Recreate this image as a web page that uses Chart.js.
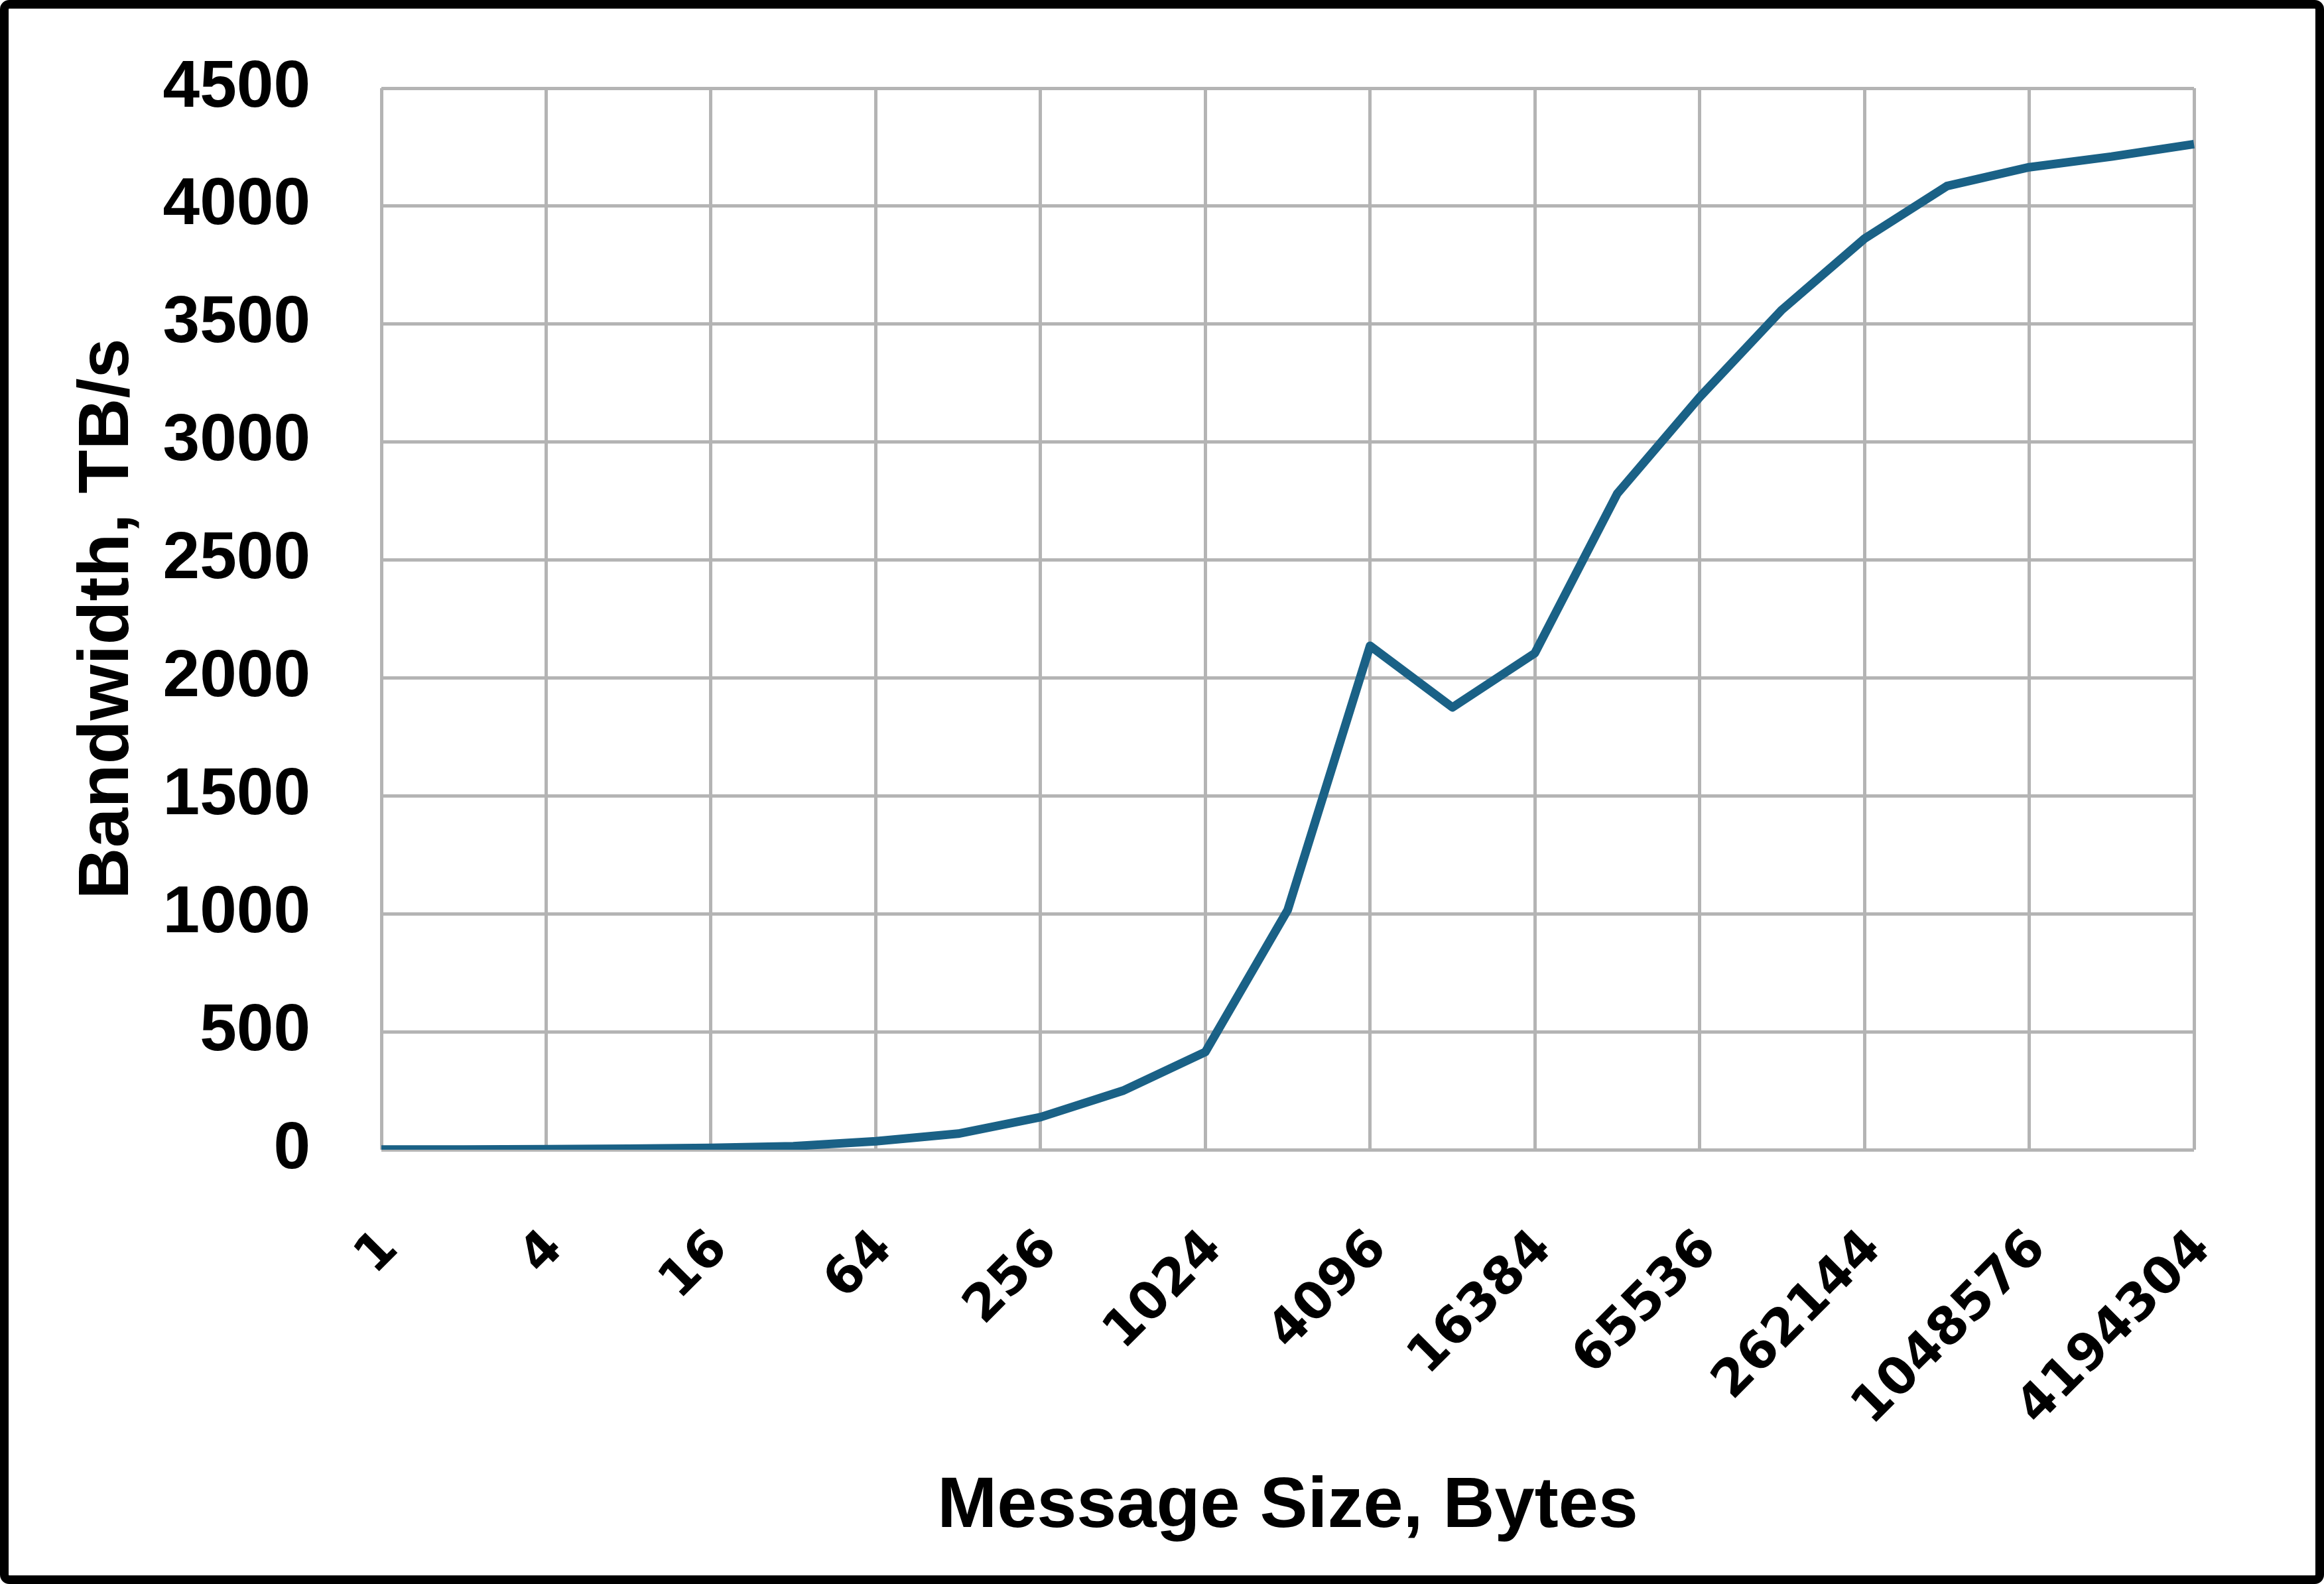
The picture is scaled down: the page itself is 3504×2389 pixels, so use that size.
<!DOCTYPE html>
<html lang="en">
<head>
    <meta charset="UTF-8">
    <title>Bandwidth vs Message Size</title>
    <script src="https://cdn.jsdelivr.net/npm/chart.js"></script>
    <style>
        html, body {
            margin: 0;
            padding: 0;
            background: #ffffff;
        }

        .frame {
            width: 3504px;
            height: 2389px;
            box-sizing: border-box;
            border: 13px solid #000000;
            border-radius: 14px;
            background: #ffffff;
        }

        .chart-box {
            position: relative;
            width: 3478px;
            height: 2363px;
        }
    </style>
</head>
<body>
    <div class="frame">
        <div class="chart-box">
            <canvas id="bwChart"></canvas>
        </div>
    </div>

    <script>
        // Message sizes in bytes (2^0 .. 2^22)
        const messageSizes = [
            '1', '2', '4', '8', '16', '32', '64', '128', '256', '512', '1024', '2048',
            '4096', '8192', '16384', '32768', '65536', '131072', '262144', '524288',
            '1048576', '2097152', '4194304'
        ];

        // Bandwidth, TB/s
        const bandwidth = [
            0.5, 1, 2, 4, 8, 15, 36, 68, 138, 250, 414, 1016,
            2136, 1875, 2105, 2781, 3190, 3561, 3862, 4085,
            4165, 4210, 4263
        ];

        // Only every other size gets a label and a vertical grid line
        const labelEvery = 2;

        const yMin = 0;
        const yMax = 4500;
        const yStep = 500;

        const gridColor = '#b4b4b4';
        const lineColor = '#1a6186';

        const ctx = document.getElementById('bwChart').getContext('2d');
        new Chart(ctx, {
            type: 'line',
            data: {
                labels: messageSizes,
                datasets: [{
                    label: 'Bandwidth',
                    data: bandwidth,
                    borderColor: lineColor,
                    backgroundColor: lineColor,
                    borderWidth: 13,
                    borderJoinStyle: 'round',
                    borderCapStyle: 'butt',
                    pointRadius: 0,
                    pointHoverRadius: 0,
                    tension: 0,
                    fill: false
                }]
            },
            options: {
                responsive: true,
                maintainAspectRatio: false,
                animation: false,
                layout: {
                    padding: { left: 85, top: 120, right: 183, bottom: 38 }
                },
                plugins: {
                    legend: { display: false },
                    tooltip: { enabled: false }
                },
                scales: {
                    x: {
                        type: 'category',
                        offset: false,
                        afterFit: function (scale) { scale.height = 604; },
                        border: { display: false },
                        grid: {
                            drawTicks: false,
                            lineWidth: 5,
                            color: function (c) {
                                return c.index % labelEvery === 0 ? gridColor : 'rgba(0,0,0,0)';
                            }
                        },
                        ticks: {
                            autoSkip: false,
                            minRotation: 45,
                            maxRotation: 45,
                            padding: 105,
                            labelOffset: 14,
                            color: '#000000',
                            font: { family: "'DejaVu Sans', sans-serif", size: 77, weight: 'bold', lineHeight: 1.2 },
                            callback: function (value, index) {
                                return index % labelEvery === 0 ? messageSizes[index] : '';
                            }
                        },
                        title: {
                            display: true,
                            text: 'Message Size, Bytes',
                            color: '#000000',
                            padding: 0,
                            font: { family: "'Liberation Sans', Arial, sans-serif", size: 108, weight: 'bold', lineHeight: 1.2 }
                        }
                    },
                    y: {
                        min: yMin,
                        max: yMax,
                        afterFit: function (scale) {
                            scale.width = 477;
                            // keep the tick padding from pushing the plot top down
                            scale.paddingTop = 0;
                            scale.paddingBottom = 0;
                        },
                        border: { display: false },
                        grid: {
                            drawTicks: false,
                            lineWidth: 5,
                            color: gridColor
                        },
                        ticks: {
                            stepSize: yStep,
                            padding: 107,
                            color: '#000000',
                            font: { family: "'Liberation Sans', Arial, sans-serif", size: 100, weight: 'bold', lineHeight: 1.2 },
                            callback: function (value) { return String(value); }
                        },
                        title: {
                            display: true,
                            text: 'Bandwidth, TB/s',
                            color: '#000000',
                            padding: 0,
                            font: { family: "'Liberation Sans', Arial, sans-serif", size: 108, weight: 'bold', lineHeight: 1.2 }
                        }
                    }
                }
            }
        });
    </script>
</body>
</html>
